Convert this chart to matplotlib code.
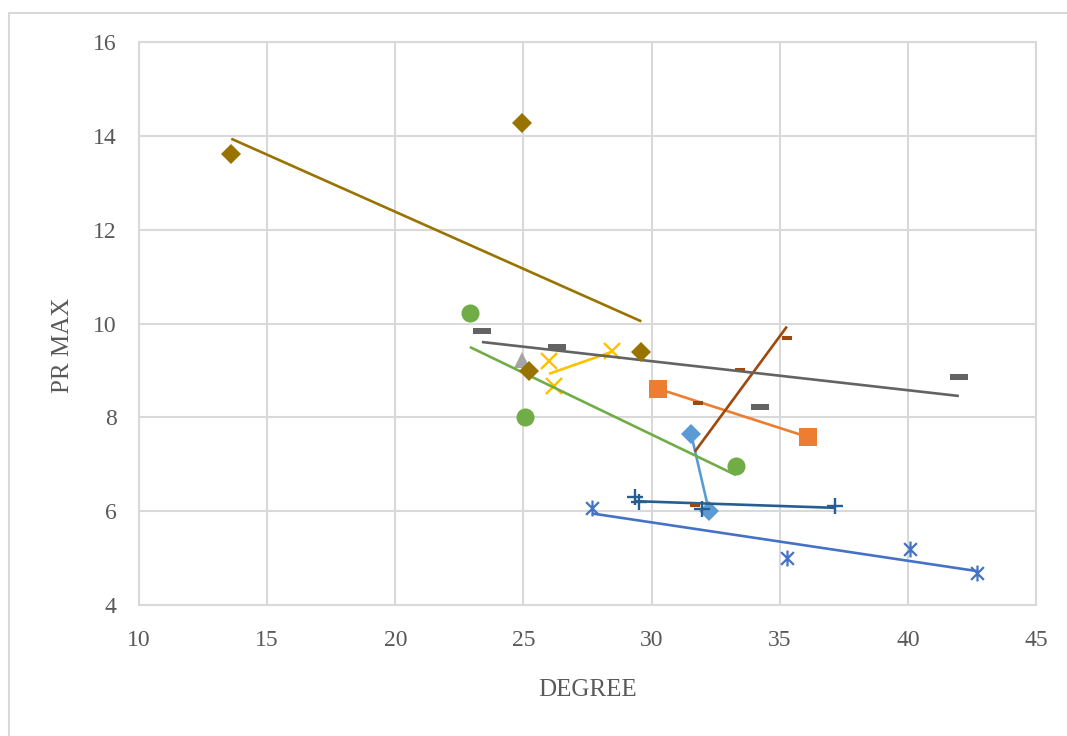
import numpy as np
import matplotlib
matplotlib.use('Agg')
import matplotlib.pyplot as plt
from matplotlib.patches import Rectangle
from matplotlib.path import Path

# data (DEGREE, PR MAX), Excel series order
s1_x = [31.54, 32.24]
s1_y = [7.65, 6.00]
s2_x = [30.25, 36.10]
s2_y = [8.61, 7.58]
s3_x = [24.93]
s3_y = [9.22]
s4_x = [26.00, 28.45, 26.19]
s4_y = [9.20, 9.42, 8.67]
s5_x = [27.67, 35.28, 40.08, 42.70]
s5_y = [6.07, 5.00, 5.19, 4.68]
s6_x = [22.91, 25.06, 33.29]
s6_y = [10.23, 8.01, 6.96]
s7_x = [29.35, 29.51, 31.97, 37.16]
s7_y = [6.30, 6.20, 6.05, 6.11]
s8_x = [35.28, 33.45, 31.81, 31.69]
s8_y = [9.69, 9.01, 8.31, 6.13]
s9_x = [23.38, 26.31, 34.23, 41.99]
s9_y = [9.84, 9.50, 8.22, 8.86]
s10_x = [13.60, 24.94, 25.20, 29.60]
s10_y = [13.62, 14.28, 8.99, 9.39]

x_ticks = [10, 15, 20, 25, 30, 35, 40, 45]
y_ticks = [4, 6, 8, 10, 12, 14, 16]

# custom markers
asterisk = Path([(0, -1), (0, 1), (-0.8, -0.8), (0.8, 0.8), (-0.8, 0.8), (0.8, -0.8)],
                [Path.MOVETO, Path.LINETO, Path.MOVETO, Path.LINETO, Path.MOVETO, Path.LINETO])
long_dash = [(-1, -0.32), (1, -0.32), (1, 0.32), (-1, 0.32), (-1, -0.32)]
short_dash = [(-1, -0.45), (1, -0.45), (1, 0.45), (-1, 0.45), (-1, -0.45)]


def add_series(ax, x, y, color, marker, ms, mew=0.0, filled=True, z=2):
    # linear trendline over the series range, like Excel
    if len(x) > 1:
        k, b = np.polyfit(x, y, 1)
        xs = np.array([min(x), max(x)])
        ax.plot(xs, k * xs + b, color=color, linewidth=1.9, zorder=z, solid_capstyle='butt')
    if filled:
        ax.plot(x, y, linestyle='none', marker=marker, markersize=ms,
                markerfacecolor=color, markeredgecolor=color, markeredgewidth=mew, zorder=z + 0.5)
    else:
        ax.plot(x, y, linestyle='none', marker=marker, markersize=ms,
                markerfacecolor='none', markeredgecolor=color, markeredgewidth=mew, zorder=z + 0.5)


fig = plt.figure(figsize=(10.67, 7.36), dpi=100)
ax = fig.add_axes([139 / 1067, 1 - 605 / 736, 897 / 1067, 563 / 736])

add_series(ax, s1_x, s1_y, '#5B9BD5', 'D', 10.5, z=2)
add_series(ax, s2_x, s2_y, '#ED7D31', 's', 13, z=3)
add_series(ax, s3_x, s3_y, '#A5A5A5', '^', 12, z=4)
add_series(ax, s4_x, s4_y, '#FFC000', 'x', 11.5, mew=1.7, filled=False, z=5)
add_series(ax, s5_x, s5_y, '#4472C4', asterisk, 11.5, mew=1.6, filled=False, z=6)
add_series(ax, s6_x, s6_y, '#70AD47', 'o', 13, z=7)
add_series(ax, s7_x, s7_y, '#255E91', '+', 11.5, mew=1.7, filled=False, z=8)
add_series(ax, s8_x, s8_y, '#9E480E', short_dash, 7, z=9)
add_series(ax, s9_x, s9_y, '#636363', long_dash, 13, z=10)
add_series(ax, s10_x, s10_y, '#997300', 'D', 10, z=11)

ax.set_xlim(10, 45)
ax.set_ylim(4, 16)
ax.set_xticks(x_ticks)
ax.set_yticks(y_ticks)
ax.grid(True, color='#d9d9d9', linewidth=1.5, zorder=0)
ax.set_axisbelow(True)
for sp in ax.spines.values():
    sp.set_color('#d9d9d9')
    sp.set_linewidth(1.5)

ax.tick_params(length=0, labelsize=17, labelcolor='#595959')
ax.tick_params(axis='x', pad=18)
ax.tick_params(axis='y', pad=16)
for lab in ax.get_xticklabels() + ax.get_yticklabels():
    lab.set_fontfamily('Liberation Serif')

fig.text(588 / 1067, 1 - 690 / 736, 'DEGREE', ha='center', va='center',
         fontsize=18, color='#595959', family='Liberation Serif')
fig.text(63 / 1067, 1 - 345 / 736, 'PR MAX', ha='center', va='center', rotation=90,
         fontsize=18, color='#595959', family='Liberation Serif')

# light frame of the chart area
frame = Rectangle((9 / 1067, -0.1), 1.2, 1 - 13 / 736 + 0.1, transform=fig.transFigure,
                  facecolor='none', edgecolor='#d9d9d9', linewidth=1.5)
fig.patches.append(frame)

plt.savefig('out.png', dpi=100)
